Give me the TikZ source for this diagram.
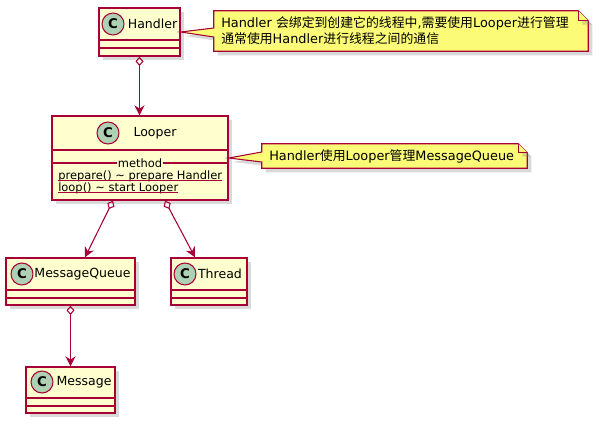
\documentclass[tikz,border=0pt]{standalone}
\usepackage{fontspec}
\setmainfont{DejaVu Sans}
\newfontfamily\cjk{Noto Sans CJK SC}
\usepackage{xcolor}
\usetikzlibrary{arrows.meta,positioning,shapes,shadows,calc}
\definecolor{umlred}{HTML}{A80036}
\definecolor{umlfill}{HTML}{FEFECE}
\definecolor{umlcirc}{HTML}{ADD1B2}
\definecolor{notefill}{HTML}{FBFB77}

\begin{document}
\begin{tikzpicture}[x = .75pt, y = -.75pt,
  boxshadow/.style = {drop shadow = {shadow xshift = 3pt, shadow yshift = -3pt, opacity = .3}},
  cls/.style = {draw = umlred, fill = umlfill, line width = 1.05pt, inner sep = 0, boxshadow},
  divider/.style = {draw = umlred, line width = .8pt},
  badge/.style = {circle, draw = umlred, fill = umlcirc, line width = .8pt, minimum size = 16.5pt, inner sep = 0, font = {\fontsize{10}{10}\selectfont\bfseries}},
  clsname/.style = {inner sep = 0, font = {\fontsize{9.4}{11}\selectfont}},
  method/.style = {inner sep = 0, font = {\fontsize{8.6}{10}\selectfont}},
  assoc/.style = {draw = umlred, line width = .8pt, {Diamond[open, length = 7pt, width = 6pt]}-{Stealth[length = 7.5pt, width = 7.5pt, inset = 2.5pt]}},
  notebox/.style = {draw = umlred, fill = notefill, line width = .8pt, boxshadow},
  notetext/.style = {inner sep = 0, align = left, font = {\fontsize{9.65}{12}\selectfont}}]
\useasboundingbox (0,0) rectangle (596,425);

% classes
\node[cls, minimum width = 81*.75pt, minimum height = 48*.75pt] (handler) at (139.5,32) {};
\node[badge] (handlerC) at (113,24) {C};
\node[clsname] (handlerName) at (152.5,24) {Handler};
\draw[divider] (handler.west |- 0,40) -- (handler.east |- 0,40);
\draw[divider] (handler.west |- 0,48) -- (handler.east |- 0,48);

\node[cls, minimum width = 176*.75pt, minimum height = 84*.75pt] (looper) at (140,158) {};
\node[badge] (looperC) at (108,133) {C};
\node[clsname] (looperName) at (155,133) {Looper};
\draw[divider] (looper.west |- 0,150) -- (looper.east |- 0,150);
\draw[divider] (looper.west |- 0,163) -- (looper.east |- 0,163);
\node[method, fill = umlfill, inner xsep = 1pt] (looperSec) at (140,163) {method};
\node[method, anchor = base west] (prepare) at (58,179) {prepare() \textasciitilde{} prepare Handler};
\node[method, anchor = base west] (loop) at (58,191) {loop() \textasciitilde{} start Looper};
\draw[divider] ($(prepare.base west)+(0,1.5)$) -- ($(prepare.base east)+(0,1.5)$);
\draw[divider] ($(loop.base west)+(0,1.5)$) -- ($(loop.base east)+(0,1.5)$);

\node[cls, minimum width = 129*.75pt, minimum height = 47*.75pt] (mq) at (70.5,281.5) {};
\node[badge] (mqC) at (22,274) {C};
\node[clsname] (mqName) at (82.5,274) {MessageQueue};
\draw[divider] (mq.west |- 0,290) -- (mq.east |- 0,290);
\draw[divider] (mq.west |- 0,298) -- (mq.east |- 0,298);

\node[cls, minimum width = 76*.75pt, minimum height = 47*.75pt] (thread) at (209,281.5) {};
\node[badge] (threadC) at (185,274) {C};
\node[clsname] (threadName) at (220,274) {Thread};
\draw[divider] (thread.west |- 0,290) -- (thread.east |- 0,290);
\draw[divider] (thread.west |- 0,298) -- (thread.east |- 0,298);

\node[cls, minimum width = 89*.75pt, minimum height = 46*.75pt] (message) at (70.5,390) {};
\node[badge] (messageC) at (42,382) {C};
\node[clsname] (messageName) at (84,382) {Message};
\draw[divider] (message.west |- 0,398) -- (message.east |- 0,398);
\draw[divider] (message.west |- 0,406) -- (message.east |- 0,406);

% relations
\draw[assoc] (handler.south) -- (handler.south |- looper.north);
\draw[assoc] ($(looper.south)+(-27,0)$) -- ($(mq.north)+(14.5,0)$);
\draw[assoc] ($(looper.south)+(25,0)$) -- ($(thread.north)+(-14,0)$);
\draw[assoc] (mq.south) -- (message.north);

% notes
\node[minimum width = 374*.75pt, minimum height = 40*.75pt, inner sep = 0] (note1) at (401,31) {};
\filldraw[notebox] (note1.north west) -- ($(note1.north east)+(-10,0)$) -- ($(note1.north east)+(0,10)$)
  -- (note1.south east) -- (note1.south west) -- ($(note1.west)+(0,6)$) -- (handler.east)
  -- ($(note1.west)+(0,-3)$) -- cycle;
\filldraw[notebox, drop shadow = {opacity = 0}] ($(note1.north east)+(-10,0)$) -- ($(note1.north east)+(-10,10)$) -- ($(note1.north east)+(0,10)$);
\node[notetext, anchor = west] (note1Text) at (221,31) {Handler {\cjk 会绑定到创建它的线程中},{\cjk 需要使用}Looper{\cjk 进行管理}\\{\cjk 通常使用}Handler{\cjk 进行线程之间的通信}};

\node[minimum width = 265*.75pt, minimum height = 24*.75pt, inner sep = 0] (note2) at (394.5,156) {};
\filldraw[notebox] (note2.north west) -- ($(note2.north east)+(-9,0)$) -- ($(note2.north east)+(0,9)$)
  -- (note2.south east) -- (note2.south west) -- ($(note2.west)+(0,6)$) -- (looper.east)
  -- ($(note2.west)+(0,-4)$) -- cycle;
\filldraw[notebox, drop shadow = {opacity = 0}] ($(note2.north east)+(-9,0)$) -- ($(note2.north east)+(-9,9)$) -- ($(note2.north east)+(0,9)$);
\node[notetext, anchor = west] (note2Text) at (269,156) {Handler{\cjk 使用}Looper{\cjk 管理}MessageQueue};
\end{tikzpicture}
\end{document}
